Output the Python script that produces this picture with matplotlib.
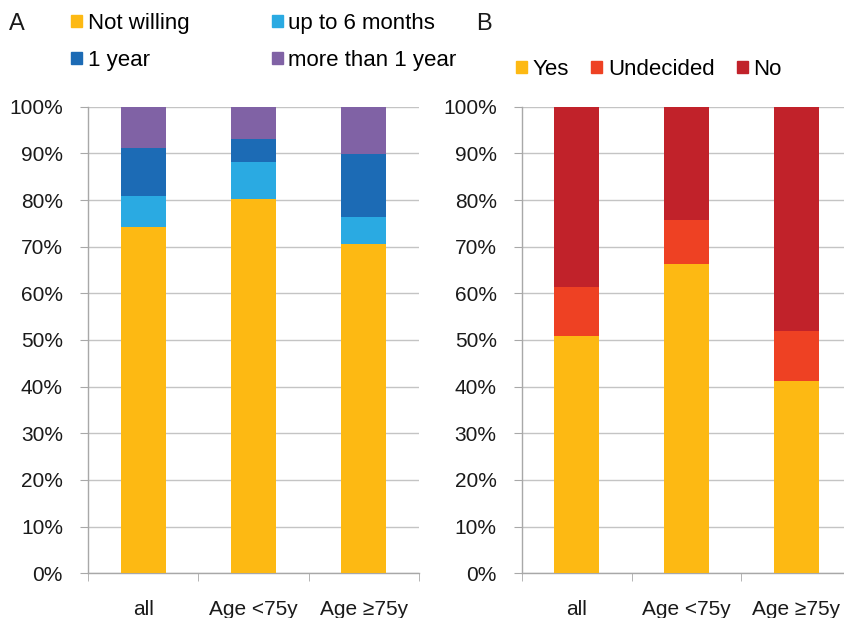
import matplotlib

matplotlib.use("Agg")
import matplotlib.pyplot as plt
from matplotlib.patches import Patch
from matplotlib.ticker import FixedLocator, PercentFormatter

# data (percent of respondents)
groups = ["all", "Age <75y", "Age \u226575y"]

a_labels = ["Not willing", "up to 6 months", "1 year", "more than 1 year"]
not_willing = [74.3, 80.2, 70.5]
up_to_6m = [6.6, 8.0, 5.9]
one_year = [10.2, 4.9, 13.4]
more_1y = [8.9, 6.9, 10.2]

b_labels = ["Yes", "Undecided", "No"]
yes = [50.9, 66.3, 41.2]
undecided = [10.4, 9.4, 10.8]
no = [38.7, 24.3, 48.0]

a_colors = ["#FDB913", "#2AAAE2", "#1C6BB5", "#8062A5"]
b_colors = ["#FDB913", "#EE4123", "#C1222A"]

FONT = ["Liberation Sans", "DejaVu Sans"]
plt.rcParams["font.family"] = FONT

GRID = "#c4c4c4"
TXT = "#1a1a1a"


def stacked(ax, series, colors):
    x = list(range(len(groups)))
    bottom = [0.0] * len(groups)
    for vals, col in zip(series, colors):
        ax.bar(x, vals, bottom=bottom, width=0.41, color=col, zorder=3)
        bottom = [b + v for b, v in zip(bottom, vals)]
    ax.set_xlim(-0.5, len(groups) - 0.5)
    ax.set_ylim(0, 100)
    ax.yaxis.set_major_locator(FixedLocator(range(0, 101, 10)))
    ax.yaxis.set_major_formatter(PercentFormatter(decimals=0))
    ax.grid(axis="y", color=GRID, linewidth=1.0, zorder=0)
    for side in ("top", "right"):
        ax.spines[side].set_visible(False)
    for side in ("left", "bottom"):
        ax.spines[side].set_color("#a8a8a8")
        ax.spines[side].set_linewidth(1.0)
    ax.tick_params(axis="y", length=6, color="#a8a8a8", pad=12, labelsize=15, labelcolor=TXT)
    ax.set_xticks(x)
    ax.set_xticklabels(groups, fontsize=15)
    ax.tick_params(axis="x", which="major", length=0, pad=19, labelcolor=TXT)
    ax.set_xticks([-0.5, 0.5, 1.5, 2.5], minor=True)
    ax.tick_params(axis="x", which="minor", length=6, color="#a8a8a8")


fig = plt.figure(figsize=(8.45, 6.18), dpi=100)
W, H = 845, 618

ax_a = fig.add_axes([88 / W, (H - 573.3) / H, 331 / W, 466.6 / H])
ax_b = fig.add_axes([521.7 / W, (H - 573.3) / H, 329.5 / W, 466.6 / H])

stacked(ax_a, [not_willing, up_to_6m, one_year, more_1y], a_colors)
stacked(ax_b, [yes, undecided, no], b_colors)

fig.text(9 / W, 1 - 24 / H, "A", fontsize=17, va="center", ha="left", color=TXT)
fig.text(476 / W, 1 - 24 / H, "B", fontsize=17, va="center", ha="left", color=TXT)

legend_kw = dict(
    loc="upper left",
    frameon=False,
    fontsize=16,
    handlelength=0.5,
    handleheight=0.5,
    handletextpad=0.25,
    borderpad=0,
    borderaxespad=0,
)

handles_a = [Patch(color=c) for c in a_colors]
# order so rows read: Not willing / up to 6 months, then 1 year / more than 1 year
order = [0, 2, 1, 3]
fig.legend(
    [handles_a[i] for i in order],
    [a_labels[i] for i in order],
    ncol=2,
    bbox_to_anchor=(71 / W, 1 - 13 / H),
    columnspacing=3.7,
    labelspacing=0.72,
    **legend_kw,
)

fig.legend(
    [Patch(color=c) for c in b_colors],
    b_labels,
    ncol=3,
    bbox_to_anchor=(516 / W, 1 - 59 / H),
    columnspacing=1.0,
    **legend_kw,
)

fig.savefig("out.png", dpi=100)
